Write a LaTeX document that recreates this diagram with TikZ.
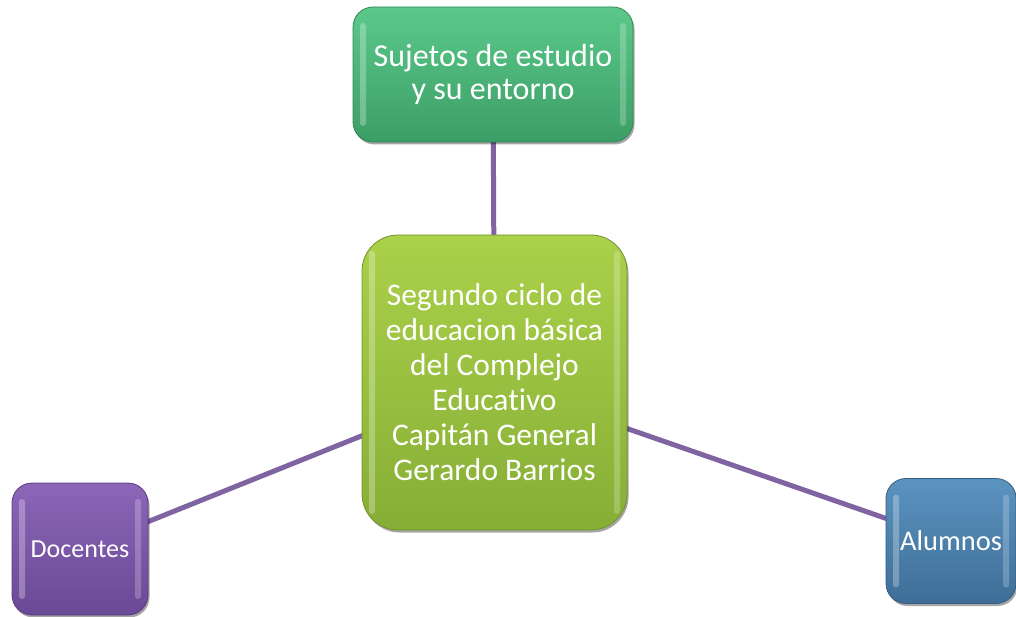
\documentclass[tikz,border=0pt]{standalone}
\usepackage{fontspec}
\setmainfont{Carlito}[Ligatures=NoCommon]
\usetikzlibrary{shadows,backgrounds}
\definecolor{linkpurple}{HTML}{8064A2}
\definecolor{grtop}{HTML}{5BC98A}
\definecolor{grbot}{HTML}{3C9E66}
\definecolor{ygtop}{HTML}{ABD14A}
\definecolor{ygbot}{HTML}{86AE36}
\definecolor{putop}{HTML}{8C66B8}
\definecolor{pubot}{HTML}{6A4996}
\definecolor{bltop}{HTML}{5B93BF}
\definecolor{blbot}{HTML}{3E6E97}
\tikzset{
  boxnode/.style={text=white, align=center, inner sep=0pt, line width=0.8pt,
    drop shadow={shadow xshift=1.5pt, shadow yshift=-2.5pt, opacity=0.35, fill=black},
    path picture={
      \fill[white, opacity=0.28, rounded corners=3pt]
        ([xshift=7pt,yshift=-16pt]path picture bounding box.north west) rectangle
        ([xshift=13pt,yshift=16pt]path picture bounding box.south west);
      \fill[white, opacity=0.22, rounded corners=3pt]
        ([xshift=-7pt,yshift=-16pt]path picture bounding box.north east) rectangle
        ([xshift=-13pt,yshift=16pt]path picture bounding box.south east);
    }},
  link/.style={draw=linkpurple, line width=5pt}
}
\begin{document}
\begin{tikzpicture}[x=1pt,y=-1pt]
\useasboundingbox (0,0) rectangle (1016,617);
\node[boxnode, minimum width=280pt, minimum height=135pt, rounded corners=20pt,
  draw=grbot!85!black, top color=grtop, bottom color=grbot, font=\fontsize{32}{33}\selectfont]
  (suj) at (493,74.5) {Sujetos de estudio\\y su entorno};
\node[boxnode, minimum width=265pt, minimum height=295pt, rounded corners=36pt,
  draw=ygbot!85!black, top color=ygtop, bottom color=ygbot, font=\fontsize{31.5}{35}\selectfont]
  (seg) at (494.5,382.5) {Segundo ciclo de\\educacion básica\\del Complejo\\Educativo\\Capitán General\\Gerardo Barrios};
\node[boxnode, minimum width=136pt, minimum height=132pt, rounded corners=20pt,
  draw=pubot!85!black, top color=putop, bottom color=pubot, font=\fontsize{26}{28}\selectfont]
  (doc) at (80,549) {Docentes};
\node[boxnode, minimum width=130pt, minimum height=125pt, rounded corners=20pt,
  draw=blbot!85!black, top color=bltop, bottom color=blbot, font=\fontsize{28.5}{30}\selectfont]
  (alu) at (951,541) {Alumnos};
\begin{scope}[on background layer]
  \draw[link] (seg.center) -- (suj.center);
  \draw[link] (seg.center) -- (doc.center);
  \draw[link] (seg.center) -- (alu.center);
\end{scope}
\end{tikzpicture}
\end{document}
